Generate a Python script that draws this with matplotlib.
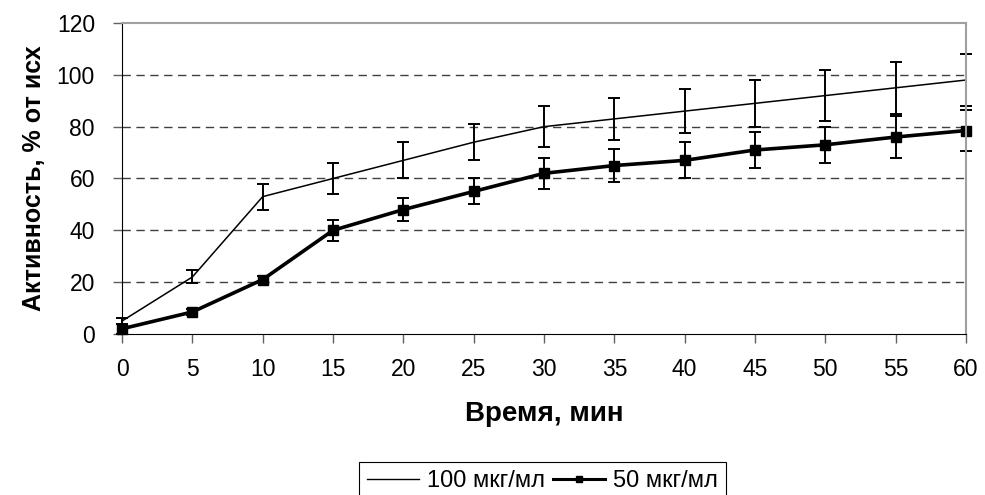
import matplotlib.pyplot as plt
from matplotlib.lines import Line2D
import numpy as np

plt.rcParams['font.family'] = ['Liberation Sans', 'DejaVu Sans']

# время, мин
t = [0, 5, 10, 15, 20, 25, 30, 35, 40, 45, 50, 55, 60]
# 100 мкг/мл
act_100 = [5, 22, 53, 60, 67, 74, 80, 83, 86, 89, 92, 95, 98]
err_100 = [1, 2.5, 5, 6, 7, 7, 8, 8, 8.5, 9, 10, 10, 10]
# 50 мкг/мл
act_50 = [2, 8.5, 21, 40, 48, 55, 62, 65, 67, 71, 73, 76, 78.5]
err_50 = [2, 1, 1.5, 4, 4.5, 5, 6, 6.3, 7, 7, 7, 8, 8]

fig = plt.figure(figsize=(9.85, 4.95), dpi=100)
ax = fig.add_axes([0.1239, 0.3253, 0.8568, 0.6282])

ax.errorbar(t, act_100, yerr=err_100, color='black', lw=1.1, elinewidth=1.4,
            capsize=4, capthick=1.4, clip_on=False)
ax.errorbar(t, act_50, yerr=err_50, color='black', lw=2.6, marker='s', ms=7,
            elinewidth=1.4, capsize=4, capthick=1.4, clip_on=False)

ax.set_xlim(0, 60)
ax.set_ylim(0, 120)
ax.set_xticks(t)
ax.set_yticks(np.arange(0, 121, 20))
ax.tick_params(axis='both', labelsize=16.5, direction='out', length=6.5, width=1,
               color='#606060')
ax.tick_params(axis='x', pad=11)
ax.tick_params(axis='y', pad=13)
for y in range(20, 101, 20):
    ax.axhline(y, color='#404040', lw=1, ls=(0, (6, 4)), zorder=0)

ax.spines['top'].set_color('#a0a0a0')
ax.spines['right'].set_color('#a0a0a0')
ax.spines['top'].set_linewidth(1.5)
ax.spines['right'].set_linewidth(1.5)

ax.set_xlabel('Время, мин', fontsize=20, fontweight='bold', labelpad=14)
ax.set_ylabel('Активность, % от исх', fontsize=18, fontweight='bold', labelpad=8)

handles = [Line2D([], [], color='black', lw=1),
           Line2D([], [], color='black', lw=2.2, marker='s', ms=5)]
leg = fig.legend(handles, ['100 мкг/мл', '50 мкг/мл'], loc='upper center',
                 bbox_to_anchor=(0.551, 0.0667), ncol=2, fontsize=17,
                 frameon=True, fancybox=False, edgecolor='black', framealpha=1,
                 handlelength=2.2, columnspacing=0.34, handletextpad=0.34,
                 borderpad=0.35, borderaxespad=0)
leg.get_frame().set_linewidth(0.8)

fig.savefig('out.png', dpi=100)
